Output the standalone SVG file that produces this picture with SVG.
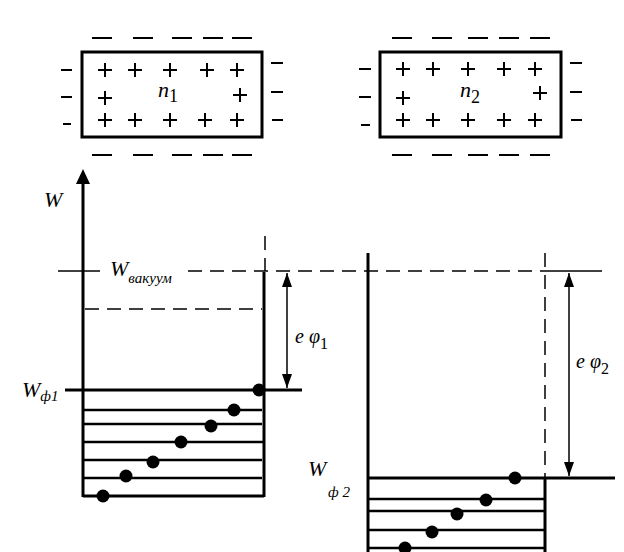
<svg xmlns="http://www.w3.org/2000/svg" width="624" height="552" viewBox="0 0 624 552">
<style>
.box{fill:none;stroke:#000;stroke-width:3}
.ch{stroke:#000;stroke-width:2;fill:none}
.thick{stroke:#000;stroke-width:3;fill:none}
.lvl{stroke:#000;stroke-width:2.5;fill:none}
.dash{stroke:#000;stroke-width:1.5;stroke-dasharray:14 8;fill:none}
.thin{stroke:#000;stroke-width:1.5;fill:none}
.lbl{font-family:"Liberation Serif",serif;font-style:italic;fill:#000}
.dot{fill:#000}
</style>
<defs>
<marker id="ah" markerWidth="14" markerHeight="10" refX="14" refY="5" orient="auto-start-reverse" markerUnits="userSpaceOnUse" viewBox="0 0 14 10">
<path d="M0,0 L14,5 L0,10 Z" fill="#000"/>
</marker>
<path id="plus" d="M-7,0 H7 M0,-7 V7" class="ch"/>
<path id="minus" d="M-10,0 H10" class="ch"/>
</defs>
<rect width="624" height="552" fill="#fff"/>

<g id="body1">
<rect x="82" y="52" width="180" height="85" class="box"/>
<g>
<use href="#minus" x="102" y="38"/><use href="#minus" x="143" y="38"/><use href="#minus" x="182" y="38"/><use href="#minus" x="213" y="38"/><use href="#minus" x="242" y="38"/>
<use href="#minus" x="102" y="155"/><use href="#minus" x="143" y="155"/><use href="#minus" x="182" y="155"/><use href="#minus" x="213" y="155"/><use href="#minus" x="242" y="155"/>
<path d="M61,70 H72 M61,97 H72 M63,124 H71" class="ch"/>
<path d="M271,63 H283 M271,92 H283 M272,120 H283" class="ch"/>
<use href="#plus" x="105" y="70"/><use href="#plus" x="135" y="70"/><use href="#plus" x="170" y="70"/><use href="#plus" x="207" y="70"/><use href="#plus" x="237" y="70"/>
<use href="#plus" x="105" y="98"/><use href="#plus" x="240" y="95"/>
<use href="#plus" x="105" y="120"/><use href="#plus" x="135" y="120"/><use href="#plus" x="170" y="120"/><use href="#plus" x="205" y="120"/><use href="#plus" x="237" y="120"/>
</g>
<text x="158" y="97" class="lbl" font-size="22">n<tspan font-style="normal" font-size="18" dy="5">1</tspan></text>
</g>

<g id="body2">
<rect x="380" y="52" width="181" height="85" class="box"/>
<g>
<use href="#minus" x="402" y="38"/><use href="#minus" x="442" y="38"/><use href="#minus" x="478" y="38"/><use href="#minus" x="509" y="38"/><use href="#minus" x="540" y="38"/>
<use href="#minus" x="402" y="155"/><use href="#minus" x="442" y="155"/><use href="#minus" x="478" y="155"/><use href="#minus" x="509" y="155"/><use href="#minus" x="540" y="155"/>
<path d="M359,69 H371 M359,97 H371 M361,125 H370" class="ch"/>
<path d="M570,63 H582 M570,92 H582 M571,120 H582" class="ch"/>
<use href="#plus" x="403" y="69"/><use href="#plus" x="433" y="69"/><use href="#plus" x="468" y="69"/><use href="#plus" x="504" y="69"/><use href="#plus" x="535" y="69"/>
<use href="#plus" x="403" y="98"/><use href="#plus" x="540" y="93"/>
<use href="#plus" x="403" y="120"/><use href="#plus" x="433" y="120"/><use href="#plus" x="468" y="120"/><use href="#plus" x="504" y="120"/><use href="#plus" x="535" y="120"/>
</g>
<text x="460" y="97" class="lbl" font-size="22">n<tspan font-style="normal" font-size="18" dy="6">2</tspan></text>
</g>

<g id="well1">
<path d="M83,497 V182" class="thick"/>
<path d="M76,184 L83,169 L90,184 Z" fill="#000"/>
<path d="M264,272 V497" class="thick"/>
<path d="M83,496 H264" class="thick"/>
<path d="M83,410 H262 M83,424 H262 M83,442 H264 M83,460 H262 M83,478 H262" class="lvl"/>
<circle cx="259" cy="390" r="6.5" class="dot"/>
<circle cx="234" cy="410" r="6.5" class="dot"/>
<circle cx="211" cy="426" r="6.5" class="dot"/>
<circle cx="181" cy="442" r="6.5" class="dot"/>
<circle cx="153" cy="462" r="6.5" class="dot"/>
<circle cx="126" cy="476" r="6.5" class="dot"/>
<circle cx="103" cy="496" r="6.5" class="dot"/>
</g>

<g id="well2">
<path d="M368,253 V552" class="thick"/>
<path d="M545,478 V552" class="thick"/>
<path d="M368,499 H545 M368,511 H545 M368,530 H545 M368,548 H545" class="lvl"/>
<circle cx="515" cy="478" r="6.5" class="dot"/>
<circle cx="486" cy="500" r="6.5" class="dot"/>
<circle cx="457" cy="514" r="6.5" class="dot"/>
<circle cx="432" cy="532" r="6.5" class="dot"/>
<circle cx="405" cy="548" r="6.5" class="dot"/>
</g>

<g id="connectors">
<path d="M58,271 H100" class="thin"/>
<path d="M188,271 H545" class="dash"/>
<path d="M545,271 H602" class="thin"/>
<path d="M265,236 V271" class="dash"/>
<path d="M545,253 V478" class="dash"/>
<path d="M85,309 H262" class="dash"/>
<path d="M65,390 H302" class="thick"/>
<path d="M368,478 H615" class="thick"/>
<path d="M287,273 V388" class="thin" marker-start="url(#ah)" marker-end="url(#ah)"/>
<path d="M569,273 V476" class="thin" marker-start="url(#ah)" marker-end="url(#ah)"/>
</g>

<g id="labels">
<text x="44" y="207" class="lbl" font-size="22">W</text>
<text x="110" y="276" class="lbl" font-size="22">W<tspan font-size="15" dy="7">вакуум</tspan></text>
<text x="295" y="343" class="lbl" font-size="20">e φ<tspan font-style="normal" font-size="16" dy="6">1</tspan></text>
<text x="576" y="368" class="lbl" font-size="20">e φ<tspan font-style="normal" font-size="16" dy="6">2</tspan></text>
<text x="22" y="397" class="lbl" font-size="22">W<tspan font-size="15" dy="4">ф1</tspan></text>
<text x="308" y="476" class="lbl" font-size="22">W</text>
<text x="328" y="497" class="lbl" font-size="15">ф 2</text>
</g>
</svg>
